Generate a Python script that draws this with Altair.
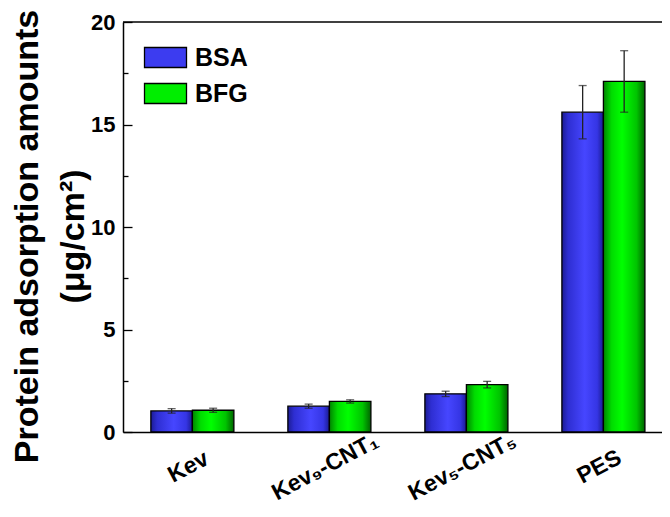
import altair as alt
import pandas as pd

groups = ["Kev", "Kev₉-CNT₁", "Kev₅-CNT₅", "PES"]
series = ["BSA", "BFG"]
bsa_values = [1.03, 1.26, 1.86, 15.6]
bsa_errors = [0.11, 0.10, 0.13, 1.3]
bfg_values = [1.06, 1.49, 2.31, 17.1]
bfg_errors = [0.10, 0.08, 0.16, 1.5]
y_ticks_major = [0, 5, 10, 15, 20]
y_ticks_all = [0, 2.5, 5, 7.5, 10, 12.5, 15, 17.5, 20]

rows = []
for g, v, e in zip(groups, bsa_values, bsa_errors):
    rows.append({"group": g, "series": "BSA", "value": v, "lo": v - e, "hi": v + e})
for g, v, e in zip(groups, bfg_values, bfg_errors):
    rows.append({"group": g, "series": "BFG", "value": v, "lo": v - e, "hi": v + e})
df = pd.DataFrame(rows)
df_groups = pd.DataFrame({"group": groups})

FONT = "Liberation Sans, Arial, DejaVu Sans"
W = 539
H = 410

blue_grad = {
    "gradient": "linear", "x1": 0, "x2": 1, "y1": 0, "y2": 0,
    "stops": [
        {"offset": 0, "color": "#1c1c94"},
        {"offset": 0.15, "color": "#2e2ed2"},
        {"offset": 0.55, "color": "#4646ff"},
        {"offset": 0.85, "color": "#3535e4"},
        {"offset": 1, "color": "#1a1a90"},
    ],
}
green_grad = {
    "gradient": "linear", "x1": 0, "x2": 1, "y1": 0, "y2": 0,
    "stops": [
        {"offset": 0, "color": "#008400"},
        {"offset": 0.2, "color": "#00dc00"},
        {"offset": 0.45, "color": "#00ff00"},
        {"offset": 0.8, "color": "#00c400"},
        {"offset": 1, "color": "#006400"},
    ],
}

x_scale = alt.Scale(domain=groups, paddingInner=0.394, paddingOuter=0.164, align=0.62)
xo_scale = alt.Scale(domain=series, paddingInner=0, paddingOuter=0)
y_scale = alt.Scale(domain=[0, 20], nice=False, zero=True)

base = alt.Chart(df)

x_main = alt.X("group:N", scale=x_scale, sort=groups, title=None)
xo = alt.XOffset("series:N", scale=xo_scale, sort=series)

bars = base.mark_bar(stroke="black", strokeWidth=1.3).encode(
    x=x_main,
    xOffset=xo,
    y=alt.Y("value:Q", scale=y_scale,
            title=["Protein adsorption amounts", "(μg/cm²)"],
            axis=alt.Axis(values=y_ticks_major, ticks=False, tickSize=0,
                          labelFontSize=22, labelFontWeight="bold", labelFont=FONT,
                          labelColor="black", labelPadding=8,
                          titleFontSize=34, titleFontWeight="bold", titleFont=FONT,
                          titleColor="black", titleLineHeight=46, titlePadding=0,
                          titleY=214,
                          domainColor="black", domainWidth=1.5, grid=False)),
    fill=alt.condition("datum.series === 'BSA'", alt.value(blue_grad), alt.value(green_grad)),
)

err_rule = base.mark_rule(color="#222222", strokeWidth=1.3).encode(
    x=x_main, xOffset=xo,
    y=alt.Y("lo:Q", scale=y_scale, axis=None), y2="hi:Q",
)
cap_lo = base.mark_tick(color="#222222", size=8, thickness=1.3, orient="horizontal").encode(
    x=x_main, xOffset=xo, y=alt.Y("lo:Q", scale=y_scale, axis=None),
)
cap_hi = base.mark_tick(color="#222222", size=8, thickness=1.3, orient="horizontal").encode(
    x=x_main, xOffset=xo, y=alt.Y("hi:Q", scale=y_scale, axis=None),
)

top_line = alt.Chart(pd.DataFrame({"v": [20]})).mark_rule(color="black", strokeWidth=1.5).encode(
    y=alt.Y("v:Q", scale=y_scale, title=None,
            axis=alt.Axis(orient="right", offset=-W, values=y_ticks_all, labels=False,
                          domain=False, grid=False, tickColor="black", tickWidth=1.3,
                          tickSize={"expr": "datum.value % 5 === 0 ? 9 : 5"})),
)

x_labels = alt.Chart(df_groups).mark_text(
    align="center", baseline="middle", dx=-20, dy=29,
    fontSize=23, fontWeight="bold", font=FONT, color="black",
).encode(
    x=x_main,
    y=alt.Y(datum=0, scale=y_scale, axis=None),
    text="group:N",
    angle=alt.value(332),
)

legend_layer = base.mark_point(opacity=0, filled=True).encode(
    x=x_main, xOffset=xo,
    y=alt.Y("value:Q", scale=y_scale, axis=None),
    color=alt.Color("series:N", sort=series,
                    scale=alt.Scale(domain=series, range=["#3c3cf0", "#00ee00"]),
                    legend=alt.Legend(title=None, orient="none", legendX=30, legendY=23,
                                      symbolType="M-2.1,-1H2.1V1H-2.1Z", symbolSize=400,
                                      symbolStrokeColor="black", symbolStrokeWidth=1.3,
                                      symbolOpacity=1,
                                      labelFontSize=25,
                                      labelFontWeight="bold", labelFont=FONT,
                                      labelColor="black", labelOffset=17, rowPadding=9,
                                      padding=0)),
)

chart = alt.layer(bars, err_rule, cap_lo, cap_hi, top_line, x_labels, legend_layer).resolve_axis(
    y="independent"
).properties(
    width=W, height=H,
    autosize=alt.AutoSizeParams(type="none"),
    padding={"left": 115, "top": 14, "right": 0, "bottom": 75},
    background="white",
).configure_view(stroke=None).configure_axisX(
    labels=False, ticks=False, tickSize=0, domainColor="black", domainWidth=1.5,
    grid=False, title=None,
)

chart.save("out.html", embed_options={"renderer": "svg", "actions": False})
